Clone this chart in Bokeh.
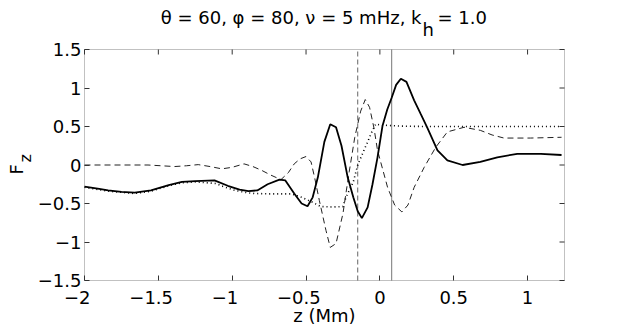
import math
from bokeh.plotting import figure
from bokeh.models import FixedTicker, Range1d, Label, BoxAnnotation
from bokeh.embed import file_html
from bokeh.resources import INLINE

FONT = "DejaVu Sans"

# ---- data ----
z_solid = [-2.00, -1.90, -1.84, -1.75, -1.66, -1.55, -1.43, -1.34, -1.25, -1.12,
           -1.03, -0.95, -0.89, -0.83, -0.76, -0.68, -0.64, -0.58, -0.53, -0.49,
           -0.455, -0.42, -0.376, -0.336, -0.297, -0.26, -0.218, -0.18, -0.15, -0.122,
           -0.083, -0.05, -0.016, 0.018, 0.05, 0.081, 0.11, 0.142, 0.18, 0.232,
           0.277, 0.32, 0.39, 0.457, 0.56, 0.68, 0.795, 0.93, 1.09, 1.23]
F_solid = [-0.28, -0.31, -0.33, -0.35, -0.36, -0.33, -0.26, -0.22, -0.21, -0.20,
           -0.27, -0.32, -0.34, -0.33, -0.25, -0.19, -0.20, -0.37, -0.50, -0.535,
           -0.42, -0.16, 0.30, 0.53, 0.49, 0.25, -0.16, -0.42, -0.60, -0.69,
           -0.55, -0.25, 0.10, 0.51, 0.72, 0.88, 1.04, 1.12, 1.08, 0.84,
           0.66, 0.49, 0.19, 0.06, 0.00, 0.04, 0.10, 0.145, 0.145, 0.13]

z_dashed = [-2.00, -1.57, -1.48, -1.39, -1.31, -1.23, -1.15, -1.07, -1.00, -0.92,
            -0.86, -0.80, -0.74, -0.67, -0.62, -0.58, -0.54, -0.50, -0.466, -0.44,
            -0.41, -0.365, -0.336, -0.297, -0.25, -0.23, -0.207, -0.17, -0.13, -0.099,
            -0.07, -0.04, -0.016, 0.052, 0.10, 0.149, 0.19, 0.232, 0.30, 0.378,
            0.457, 0.57, 0.68, 0.76, 0.84, 1.02, 1.23]
F_dashed = [0.00, 0.00, -0.01, -0.02, -0.01, 0.005, -0.02, -0.05, -0.03, 0.015,
            -0.02, -0.07, -0.13, -0.19, -0.10, 0.015, 0.08, 0.11, 0.04, -0.18,
            -0.46, -0.85, -1.07, -1.02, -0.63, -0.37, -0.08, 0.36, 0.70, 0.85,
            0.75, 0.48, 0.19, -0.29, -0.52, -0.61, -0.52, -0.29, -0.03, 0.23,
            0.43, 0.49, 0.45, 0.39, 0.35, 0.35, 0.36]

z_dotted = [-2.00, -1.84, -1.66, -1.55, -1.43, -1.34, -1.25, -1.11, -1.06, -0.98,
            -0.90, -0.85, -0.75, -0.60, -0.53, -0.46, -0.40, -0.32, -0.25, -0.23,
            -0.18, -0.15, -0.117, -0.083, -0.05, -0.027, 0.00, 0.14, 0.30, 0.50,
            0.80, 1.00, 1.23]
F_dotted = [-0.29, -0.34, -0.37, -0.34, -0.27, -0.23, -0.22, -0.24, -0.28, -0.33,
            -0.36, -0.37, -0.375, -0.375, -0.42, -0.48, -0.54, -0.545, -0.54, -0.42,
            -0.22, 0.00, 0.15, 0.30, 0.45, 0.535, 0.52, 0.505, 0.50, 0.50,
            0.50, 0.50, 0.50]

z_markers = [-0.15, 0.08]      # dashed, solid vertical lines

x_ticks = [-2, -1.5, -1, -0.5, 0, 0.5, 1]
x_tick_labels = ["\u22122", "\u22121.5", "\u22121", "\u22120.5", "0", "0.5", "1"]
y_ticks = [-1.5, -1, -0.5, 0, 0.5, 1, 1.5]
y_tick_labels = ["\u22121.5", "\u22121", "\u22120.5", "0", "0.5", "1", "1.5"]

x_min, x_max = -2.0, 1.25
y_min, y_max = -1.5, 1.5

title_main = "\u03b8 = 60, \u03c6 = 80, \u03bd = 5 mHz, k"
title_sub = "h"
title_end = "= 1.0"
x_label = "z (Mm)"
y_label_main = "F"
y_label_sub = "z"

# ---- layout: the frame fills the canvas; the axes box sits at px 84..564 x 49..280 ----
BOX_L, BOX_R, BOX_T, BOX_B = 84, 564, 49, 280
W, H = 620, 328
ex = (x_max - x_min) / (BOX_R - BOX_L)      # data units per pixel
ey = (y_max - y_min) / (BOX_B - BOX_T)
x_range = Range1d(x_min - BOX_L * ex, x_max + (W - BOX_R) * ex)
y_range = Range1d(y_min - (H - BOX_B) * ey, y_max + BOX_T * ey)

p = figure(width=W, height=H, x_range=x_range, y_range=y_range,
           output_backend="svg", toolbar_location=None,
           min_border_left=0, min_border_right=0, min_border_top=0, min_border_bottom=0)
p.title.visible = False
p.background_fill_color = "white"
p.border_fill_color = "white"
p.outline_line_color = None
p.xgrid.visible = False
p.ygrid.visible = False

# negative x labels: pad so the digits (not the minus sign) sit centred on the tick
MINUS_PAD = "\u2002\u2009\u200a"
x_label_text = [t + MINUS_PAD if t.startswith("\u2212") else t for t in x_tick_labels]

def style_axis(ax, ticks, labels, standoff, loc):
    ax.fixed_location = loc
    ax.ticker = FixedTicker(ticks=ticks)
    ax.major_label_overrides = dict(zip(ticks, labels))
    ax.major_tick_in = 5
    ax.major_tick_out = 0
    ax.minor_tick_in = 0
    ax.minor_tick_out = 0
    ax.axis_line_color = None
    ax.major_tick_line_color = "#333333"
    ax.major_label_text_font = FONT
    ax.major_label_text_font_size = "18px"
    ax.major_label_text_color = "black"
    ax.major_label_standoff = standoff

style_axis(p.xaxis[0], x_ticks, x_label_text, 6, y_min)
style_axis(p.yaxis[0], y_ticks, y_tick_labels, 3, x_min)

# axes box
p.add_layout(BoxAnnotation(left=x_min, right=x_max, bottom=y_min, top=y_max,
                           fill_alpha=0, line_color="#333333", line_width=1))

# inward ticks on the top and right edges, from the same tick lists
nx, ny = len(x_ticks), len(y_ticks)
p.segment(x0=x_ticks, x1=x_ticks, y0=[y_max] * nx, y1=[y_max - 5 * ey] * nx,
          line_color="#333333", line_width=1)
p.segment(x0=[x_max] * ny, x1=[x_max - 5 * ex] * ny, y0=y_ticks, y1=y_ticks,
          line_color="#333333", line_width=1)

# vertical marker lines inside the box
p.segment(x0=[z_markers[0]], x1=[z_markers[0]], y0=[y_min], y1=[y_max],
          line_color="#666666", line_width=1, line_dash="5 3")
p.segment(x0=[z_markers[1]], x1=[z_markers[1]], y0=[y_min], y1=[y_max],
          line_color="#777777", line_width=1)

# curves
p.line(z_dashed, F_dashed, line_color="#222222", line_width=1, line_dash="6 4")
p.line(z_dotted, F_dotted, line_color="black", line_width=1.6, line_dash="1 3")
p.line(z_solid, F_solid, line_color="black", line_width=1.8)

# ---- texts ----
def zx(px):
    return x_min + (px - BOX_L) * ex

def vy(py):
    return y_max - (py - BOX_T) * ey

common = dict(text_font=FONT, text_color="black", text_baseline="alphabetic")
p.add_layout(Label(x=zx(421), y=vy(17), text=title_main, text_align="right",
                   text_font_size="18px", **common))
p.add_layout(Label(x=zx(422), y=vy(29), text=title_sub, text_align="left",
                   text_font_size="18px", **common))
p.add_layout(Label(x=zx(437), y=vy(17), text=title_end, text_align="left",
                   text_font_size="18px", **common))

p.add_layout(Label(x=zx(324), y=vy(315), text=x_label, text_align="center",
                   text_font_size="18px", **common))

p.add_layout(Label(x=zx(16), y=vy(174), text=y_label_main, angle=math.pi / 2,
                   text_align="left", text_font_size="18px", **common))
p.add_layout(Label(x=zx(25), y=vy(162), text=y_label_sub, angle=math.pi / 2,
                   text_align="left", text_font_size="16px", **common))

open("out.html", "w").write(file_html(p, INLINE))
